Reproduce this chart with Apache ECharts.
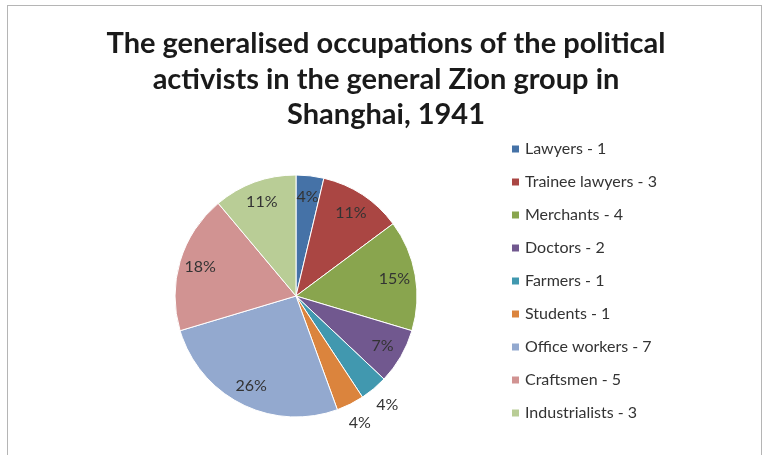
<!DOCTYPE html>
<html>
<head>
<meta charset="utf-8">
<script src="https://cdn.jsdelivr.net/npm/echarts@6/dist/echarts.min.js"></script>
<style>
  html, body { margin: 0; padding: 0; background: #fff; }
  #frame { position: absolute; left: 7px; top: 5px; width: 755px; height: 470px;
           border: 1.5px solid #b5b5b5; box-sizing: border-box; }
  #chart { position: absolute; left: 0; top: 0; width: 766px; height: 455px; }
</style>
</head>
<body>
<div id="frame"></div>
<div id="chart"></div>
<script>
var titleText = 'The generalised occupations of the political\nactivists in the general Zion group in\nShanghai, 1941'
var categories = ['Lawyers', 'Trainee lawyers', 'Merchants', 'Doctors', 'Farmers',
  'Students', 'Office workers', 'Craftsmen', 'Industrialists']
var counts = [1, 3, 4, 2, 1, 1, 7, 5, 3]
var colors = ['#4572A7', '#AA4643', '#89A54E', '#71588F', '#4198AF',
  '#DB843D', '#93A9CF', '#D19392', '#B9CD96']
// slices whose label sits outside the pie
var outsideLabels = ['Farmers', 'Students']

var font = 'Lato, "Open Sans", sans-serif'
var pieData = categories.map(function (name, i) {
  return { name: name, value: counts[i], itemStyle: { color: colors[i] } }
})
function labelData(outside) {
  return categories.map(function (name, i) {
    var isOut = outsideLabels.indexOf(name) >= 0
    return { name: name, value: counts[i], label: { show: isOut === outside } }
  })
}

// transparent ring that only carries the percentage labels
function labelRing(radius, outside) {
  return {
    type: 'pie',
    center: [296, 296],
    radius: radius,
    startAngle: 90,
    clockwise: true,
    percentPrecision: 0,
    silent: true,
    legendHoverLink: false,
    data: labelData(outside),
    itemStyle: { color: 'rgba(0,0,0,0)' },
    label: {
      position: 'inside',
      formatter: '{d}%',
      fontFamily: font,
      fontSize: 16,
      color: '#333'
    },
    labelLine: { show: false },
    emphasis: { disabled: true }
  }
}

var chart = echarts.init(document.getElementById('chart'))
chart.setOption({
  animation: false,
  title: {
    text: titleText,
    left: 381,
    textAlign: 'center',
    top: 21,
    textStyle: { fontFamily: font, fontWeight: 'bold', fontSize: 29, lineHeight: 35.5, color: '#1a1a1a' }
  },
  legend: {
    orient: 'vertical',
    left: 505,
    top: 136,
    itemWidth: 9,
    itemHeight: 9,
    itemGap: 17,
    icon: 'rect',
    data: categories,
    formatter: function (name) {
      return name + ' - ' + counts[categories.indexOf(name)]
    },
    textStyle: { fontFamily: font, fontSize: 16, lineHeight: 16, color: '#333' }
  },
  series: [
    {
      type: 'pie',
      center: [296, 296],
      radius: [0, 121],
      startAngle: 90,
      clockwise: true,
      data: pieData,
      label: { show: false },
      labelLine: { show: false },
      itemStyle: { borderColor: '#fff', borderWidth: 1 },
      emphasis: { disabled: true }
    },
    labelRing([73, 121], false),
    labelRing([121, 157], true)
  ]
})
</script>
</body>
</html>
